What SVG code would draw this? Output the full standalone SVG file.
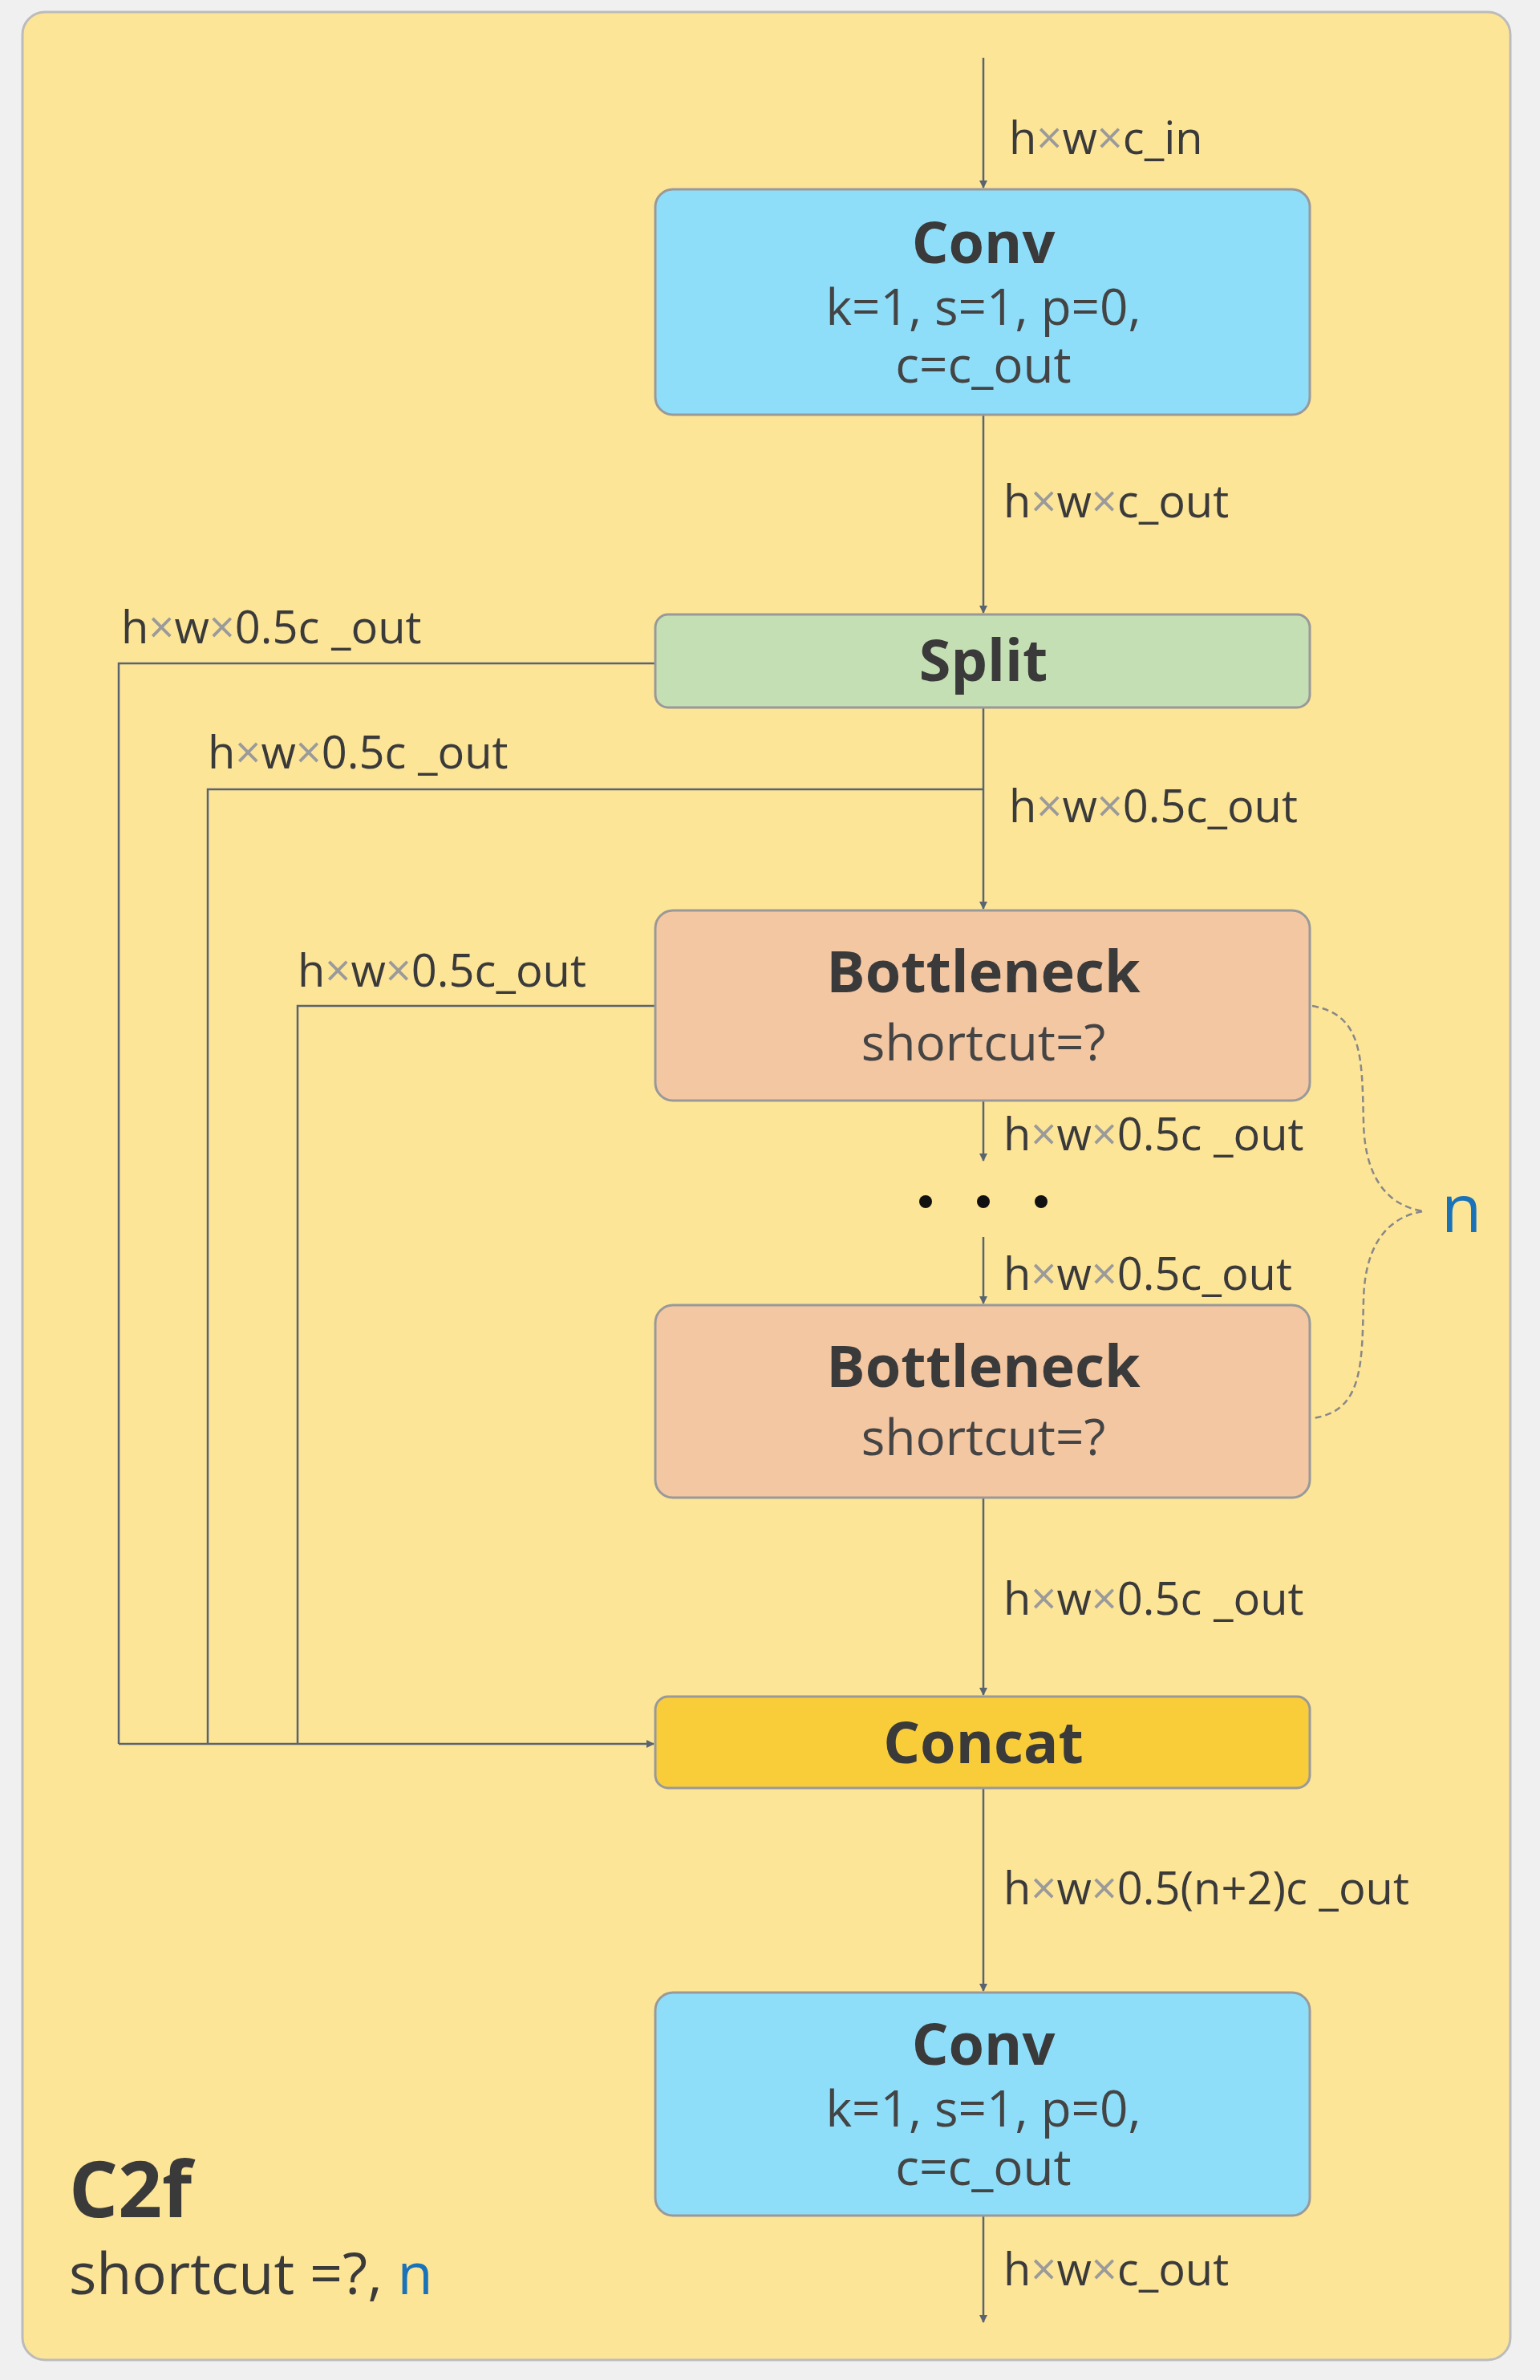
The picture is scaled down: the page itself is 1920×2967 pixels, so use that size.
<svg xmlns="http://www.w3.org/2000/svg" width="1920" height="2967" viewBox="0 0 1920 2967">
<defs>
<style>
.t{font-family:"Open Sans","Noto Sans",sans-serif;fill:#3a3a3a}
.lb{font-size:56px}
.x{fill:#9a9a9a}
.ti{font-size:72px;font-weight:bold;text-anchor:middle}
.pa{font-size:62px;text-anchor:middle;fill:#444}
.node{stroke:#999;stroke-width:3}
.ln{stroke:#5a6470;stroke-width:2.5;fill:none}
</style>
<marker id="ar" markerWidth="10" markerHeight="10" refX="9" refY="5" orient="auto" markerUnits="userSpaceOnUse" viewBox="0 0 10 10"><path d="M0,0 L10,5 L0,10 z" fill="#5a6470"/></marker>
</defs>
<rect width="1920" height="2967" fill="#f0f0f0"/>
<rect x="28" y="15" width="1855" height="2927" rx="28" fill="#FDE598" stroke="#bbb" stroke-width="3"/>
<g id="connectors">
<line class="ln" x1="1226" y1="72" x2="1226" y2="234" marker-end="url(#ar)"/>
<line class="ln" x1="1226" y1="517" x2="1226" y2="764" marker-end="url(#ar)"/>
<line class="ln" x1="1226" y1="882" x2="1226" y2="1133" marker-end="url(#ar)"/>
<line class="ln" x1="1226" y1="1372" x2="1226" y2="1447" marker-end="url(#ar)"/>
<line class="ln" x1="1226" y1="1542" x2="1226" y2="1625" marker-end="url(#ar)"/>
<line class="ln" x1="1226" y1="1867" x2="1226" y2="2113" marker-end="url(#ar)"/>
<line class="ln" x1="1226" y1="2229" x2="1226" y2="2482" marker-end="url(#ar)"/>
<line class="ln" x1="1226" y1="2762" x2="1226" y2="2895" marker-end="url(#ar)"/>
<polyline class="ln" points="817,827 148,827 148,2174"/>
<polyline class="ln" points="1226,984 259,984 259,2174"/>
<polyline class="ln" points="817,1254 371,1254 371,2174"/>
<line class="ln" x1="148" y1="2174" x2="815" y2="2174" marker-end="url(#ar)"/>
<path d="M1636,1254 C1700,1265 1698,1320 1700,1400 C1702,1480 1740,1505 1775,1510 C1740,1515 1702,1540 1700,1620 C1698,1700 1700,1760 1636,1768" fill="none" stroke="#888" stroke-width="2.5" stroke-dasharray="8,5"/>
</g>
<g id="labels" class="t lb">
<text x="1258" y="192">h<tspan class="x">×</tspan>w<tspan class="x">×</tspan>c_in</text>
<text x="1251" y="645">h<tspan class="x">×</tspan>w<tspan class="x">×</tspan>c_out</text>
<text x="151" y="802">h<tspan class="x">×</tspan>w<tspan class="x">×</tspan>0.5c _out</text>
<text x="259" y="958">h<tspan class="x">×</tspan>w<tspan class="x">×</tspan>0.5c _out</text>
<text x="1258" y="1025">h<tspan class="x">×</tspan>w<tspan class="x">×</tspan>0.5c_out</text>
<text x="371" y="1230">h<tspan class="x">×</tspan>w<tspan class="x">×</tspan>0.5c_out</text>
<text x="1251" y="1434">h<tspan class="x">×</tspan>w<tspan class="x">×</tspan>0.5c _out</text>
<text x="1251" y="1608">h<tspan class="x">×</tspan>w<tspan class="x">×</tspan>0.5c_out</text>
<text x="1251" y="2013">h<tspan class="x">×</tspan>w<tspan class="x">×</tspan>0.5c _out</text>
<text x="1251" y="2374">h<tspan class="x">×</tspan>w<tspan class="x">×</tspan>0.5(n+2)c _out</text>
<text x="1251" y="2849">h<tspan class="x">×</tspan>w<tspan class="x">×</tspan>c_out</text>
</g>
<g id="dots" fill="#111"><circle cx="1154" cy="1498" r="8"/><circle cx="1226" cy="1498" r="8"/><circle cx="1298" cy="1498" r="8"/></g>
<text x="1797" y="1536" font-family="Open Sans,sans-serif" font-size="82" fill="#1a73b8">n</text>
<g id="conv1"><rect class="node" x="817" y="236" width="816" height="281" rx="22" fill="#8EDEFA"/>
<text class="t ti" x="1226" y="328">Conv</text><text class="t pa" x="1226" y="405">k=1, s=1, p=0,</text><text class="t pa" x="1226" y="477">c=c_out</text></g>
<g id="split"><rect class="node" x="817" y="766" width="816" height="116" rx="16" fill="#C5DFB4"/>
<text class="t ti" x="1226" y="849">Split</text></g>
<g id="bottleneck1"><rect class="node" x="817" y="1135" width="816" height="237" rx="22" fill="#F4C7A3"/>
<text class="t ti" x="1226" y="1237">Bottleneck</text><text class="t pa" x="1226" y="1322">shortcut=?</text></g>
<g id="bottleneck2"><rect class="node" x="817" y="1627" width="816" height="240" rx="22" fill="#F4C7A3"/>
<text class="t ti" x="1226" y="1729">Bottleneck</text><text class="t pa" x="1226" y="1814">shortcut=?</text></g>
<g id="concat"><rect class="node" x="817" y="2115" width="816" height="114" rx="16" fill="#F9CC3A"/>
<text class="t ti" x="1226" y="2198">Concat</text></g>
<g id="conv2"><rect class="node" x="817" y="2484" width="816" height="278" rx="22" fill="#8EDEFA"/>
<text class="t ti" x="1226" y="2574">Conv</text><text class="t pa" x="1226" y="2651">k=1, s=1, p=0,</text><text class="t pa" x="1226" y="2724">c=c_out</text></g>
<g id="title"><text class="t" x="86" y="2764" font-size="96" font-weight="bold">C2f</text>
<text class="t" x="86" y="2860" font-size="72" fill="#444">shortcut =?, <tspan fill="#1a73b8">n</tspan></text></g>
</svg>
